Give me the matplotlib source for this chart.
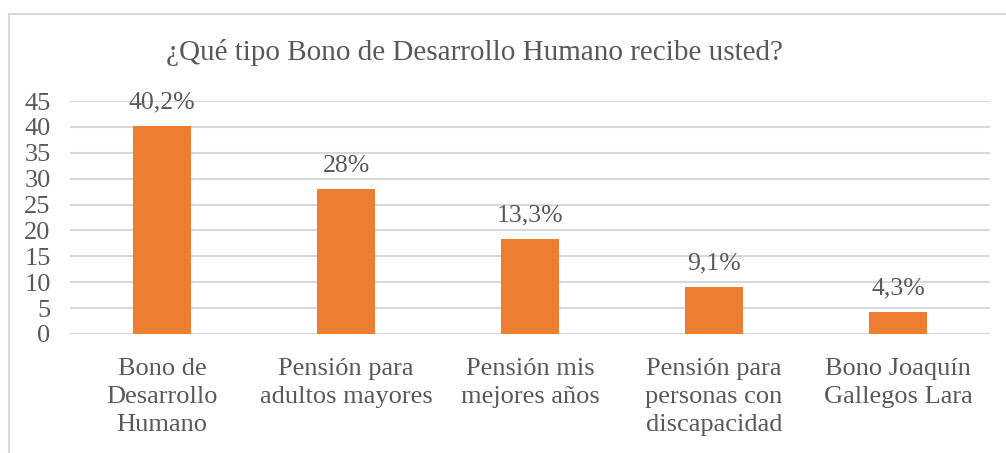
import matplotlib.pyplot as plt
from matplotlib.lines import Line2D

categories = ["Bono de\nDesarrollo\nHumano", "Pensión para\nadultos mayores", "Pensión mis\nmejores años",
              "Pensión para\npersonas con\ndiscapacidad", "Bono Joaquín\nGallegos Lara"]
values = [40.2, 28, 18.3, 9.1, 4.3]
labels = ["40,2%", "28%", "13,3%", "9,1%", "4,3%"]
yticks = [0, 5, 10, 15, 20, 25, 30, 35, 40, 45]

TEXT = "#595959"
plt.rcParams["font.family"] = ["Liberation Serif", "DejaVu Serif"]

W, H = 1006, 453
fig = plt.figure(figsize=(W / 100, H / 100), dpi=100)
ax = fig.add_axes([70 / W, 1 - 334 / H, 920 / W, 233 / H])

x = range(len(values))
ax.bar(x, values, width=0.31, color="#ED7D31", zorder=3)
for i, (v, lab) in enumerate(zip(values, labels)):
    ax.annotate(lab, (i, v), xytext=(0, 9), textcoords="offset points",
                ha="center", va="bottom", fontsize=18.5, color=TEXT)

ax.set_xlim(-0.5, len(values) - 0.5)
ax.set_ylim(0, 45)
ax.set_yticks(yticks)
ax.set_xticks(list(x))
ax.set_xticklabels(categories, fontsize=19, color=TEXT, linespacing=1.35)
ax.tick_params(axis="y", labelsize=19, labelcolor=TEXT, length=0, pad=14)
ax.tick_params(axis="x", length=0, pad=17)
ax.grid(axis="y", color="#d9d9d9", linewidth=1.5, zorder=0)
for s in ax.spines.values():
    s.set_visible(False)

fig.text(475 / W, 1 - 52 / H, "¿Qué tipo Bono de Desarrollo Humano recibe usted?",
         ha="center", va="center", fontsize=21, color=TEXT)

# chart frame (top and left edges visible)
fig.add_artist(Line2D([9 / W, 9 / W], [0, 1 - 14 / H], transform=fig.transFigure, color="#d9d9d9", lw=1.5))
fig.add_artist(Line2D([9 / W, 1], [1 - 14 / H, 1 - 14 / H], transform=fig.transFigure, color="#d9d9d9", lw=1.5))

fig.savefig("out.png", dpi=100)
